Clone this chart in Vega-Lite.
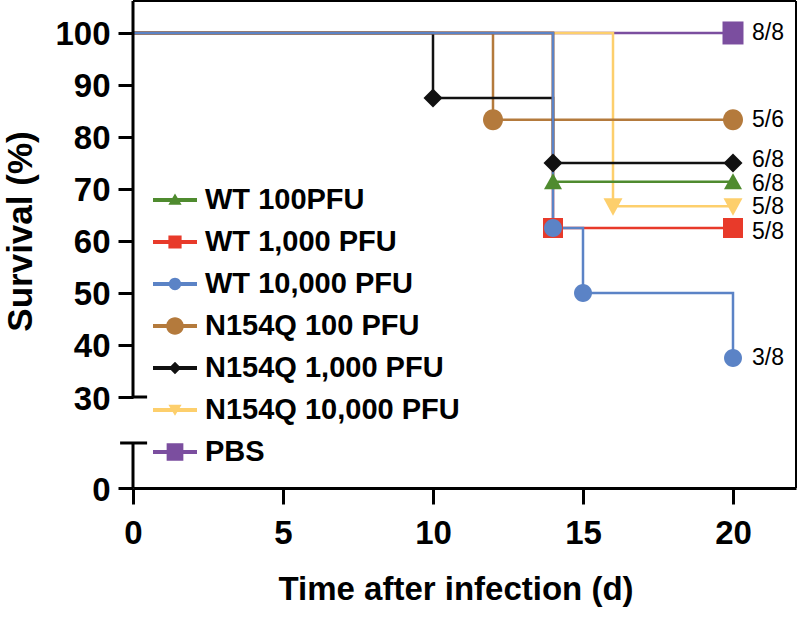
{
  "$schema": "https://vega.github.io/schema/vega-lite/v6.json",
  "width": 663,
  "height": 487,
  "autosize": "none",
  "padding": {"left": 133, "top": 1, "right": 4, "bottom": 130},
  "background": "white",
  "config": {
    "view": {"stroke": null},
    "font": "Liberation Sans",
    "axis": {"grid": false, "domainColor": "black", "domainWidth": 3, "tickColor": "black", "tickWidth": 3, "labelColor": "black", "titleColor": "black", "labelFont": "Liberation Sans", "titleFont": "Liberation Sans", "labelFontWeight": "bold", "titleFontWeight": "bold", "labelFontSize": 33, "titleFontSize": 33, "labelOverlap": false, "labelFlush": false},
    "text": {"align": "left", "baseline": "middle", "dx": 19, "fontSize": 23, "font": "Liberation Sans", "color": "black"}
  },
  "datasets": {
    "km": [
      {"group": "PBS", "day": 0, "survival": 100},
      {"group": "PBS", "day": 20, "survival": 100},
      {"group": "N154Q 10,000 PFU", "day": 0, "survival": 100},
      {"group": "N154Q 10,000 PFU", "day": 16, "survival": 66.7},
      {"group": "N154Q 10,000 PFU", "day": 20, "survival": 66.7},
      {"group": "N154Q 100 PFU", "day": 0, "survival": 100},
      {"group": "N154Q 100 PFU", "day": 12, "survival": 83.3},
      {"group": "N154Q 100 PFU", "day": 20, "survival": 83.3},
      {"group": "N154Q 1,000 PFU", "day": 0, "survival": 100},
      {"group": "N154Q 1,000 PFU", "day": 10, "survival": 87.5},
      {"group": "N154Q 1,000 PFU", "day": 14, "survival": 75},
      {"group": "N154Q 1,000 PFU", "day": 20, "survival": 75},
      {"group": "WT 100PFU", "day": 0, "survival": 100},
      {"group": "WT 100PFU", "day": 14, "survival": 71.4},
      {"group": "WT 100PFU", "day": 20, "survival": 71.4},
      {"group": "WT 1,000 PFU", "day": 0, "survival": 100},
      {"group": "WT 1,000 PFU", "day": 14, "survival": 62.5},
      {"group": "WT 1,000 PFU", "day": 20, "survival": 62.5},
      {"group": "WT 10,000 PFU", "day": 0, "survival": 100},
      {"group": "WT 10,000 PFU", "day": 14, "survival": 62.5},
      {"group": "WT 10,000 PFU", "day": 15, "survival": 50},
      {"group": "WT 10,000 PFU", "day": 20, "survival": 37.5}
    ],
    "labels": [
      {"group": "PBS", "label": "8/8", "day": 20, "survival": 100},
      {"group": "N154Q 100 PFU", "label": "5/6", "day": 20, "survival": 83.3},
      {"group": "N154Q 1,000 PFU", "label": "6/8", "day": 20, "survival": 75},
      {"group": "WT 100PFU", "label": "6/8", "day": 20, "survival": 71.4},
      {"group": "N154Q 10,000 PFU", "label": "5/8", "day": 20, "survival": 66.7},
      {"group": "WT 1,000 PFU", "label": "5/8", "day": 20, "survival": 62.5},
      {"group": "WT 10,000 PFU", "label": "3/8", "day": 20, "survival": 37.5}
    ]
  },
  "layer": [
    {
      "data": {"name": "km"},
      "mark": {"type": "line", "interpolate": "step-after", "strokeWidth": 2.5},
      "encoding": {
        "x": {"field": "day", "type": "quantitative", "scale": {"domain": [0, 22.1], "nice": false, "zero": false},
              "axis": {"values": [0, 5, 10, 15, 20], "tickSize": 16, "labelPadding": 13, "title": "Time after infection (d)", "titleX": 322.5, "titleY": 111, "titleAlign": "center", "titleBaseline": "alphabetic"}},
        "y": {"field": "survival", "type": "quantitative", "scale": {"domain": [0, 30, 106.15], "range": [487, 396, 0], "nice": false, "zero": false},
              "axis": {"values": [0, 30, 40, 50, 60, 70, 80, 90, 100], "domain": false, "tickSize": 15, "labelPadding": 8, "labelOffset": 2, "title": "Survival (%)", "titleFontSize": 35, "titleX": -102, "titleY": 230, "titleAngle": -90, "titleAlign": "center", "titleBaseline": "alphabetic"}},
        "color": {"field": "group", "type": "nominal", "legend": null,
                  "scale": {"domain": ["WT 100PFU", "WT 1,000 PFU", "WT 10,000 PFU", "N154Q 100 PFU", "N154Q 1,000 PFU", "N154Q 10,000 PFU", "PBS"],
                            "range": ["#4f8b2f", "#e83a2a", "#5b83c6", "#b47a3c", "#111111", "#fdcf6c", "#7b4e9f"]}}
      }
    },
    {
      "data": {"name": "km"},
      "transform": [{"filter": "datum.day > 0"}],
      "mark": {"type": "point", "filled": true, "opacity": 1, "size": 400},
      "encoding": {
        "x": {"field": "day", "type": "quantitative"},
        "y": {"field": "survival", "type": "quantitative"},
        "color": {"field": "group", "type": "nominal", "legend": null,
                  "scale": {"domain": ["WT 100PFU", "WT 1,000 PFU", "WT 10,000 PFU", "N154Q 100 PFU", "N154Q 1,000 PFU", "N154Q 10,000 PFU", "PBS"],
                            "range": ["#4f8b2f", "#e83a2a", "#5b83c6", "#b47a3c", "#111111", "#fdcf6c", "#7b4e9f"]}},
        "shape": {"field": "group", "type": "nominal", "legend": null,
                  "scale": {"domain": ["WT 100PFU", "WT 1,000 PFU", "WT 10,000 PFU", "N154Q 100 PFU", "N154Q 1,000 PFU", "N154Q 10,000 PFU", "PBS"],
                            "range": ["M0,-0.85L0.9,0.75L-0.9,0.75Z", "M-1,-1L1,-1L1,1L-1,1Z", "M-0.9,0A0.9,0.9,0,1,1,0.9,0A0.9,0.9,0,1,1,-0.9,0Z", "M-1,0A1,1.05,0,1,1,1,0A1,1.05,0,1,1,-1,0Z", "M0,-0.95L0.95,0L0,0.95L-0.95,0Z", "M-0.95,-0.8L0.95,-0.8L0,0.95Z", "M-1.05,-1.15L1.05,-1.15L1.05,1.15L-1.05,1.15Z"]}}
      }
    },
    {
      "data": {"name": "km"},
      "transform": [{"filter": "false"}],
      "mark": {"type": "point", "filled": true, "opacity": 1, "size": 1936},
      "encoding": {
        "x": {"field": "day", "type": "quantitative"},
        "y": {"field": "survival", "type": "quantitative"},
        "color": {"field": "group", "type": "nominal",
                  "scale": {"domain": ["WT 100PFU", "WT 1,000 PFU", "WT 10,000 PFU", "N154Q 100 PFU", "N154Q 1,000 PFU", "N154Q 10,000 PFU", "PBS"],
                            "range": ["#4f8b2f", "#e83a2a", "#5b83c6", "#b47a3c", "#111111", "#fdcf6c", "#7b4e9f"]},
                  "legend": {"title": null, "orient": "none", "legendX": 20, "legendY": 177, "symbolSize": 1936, "symbolOpacity": 1, "symbolStrokeWidth": 0, "labelFontSize": 29, "labelFontWeight": "bold", "labelFont": "Liberation Sans", "labelColor": "black", "labelOffset": 8, "rowPadding": 5, "padding": 0, "labelLimit": 400}},
        "shape": {"field": "group", "type": "nominal",
                  "scale": {"domain": ["WT 100PFU", "WT 1,000 PFU", "WT 10,000 PFU", "N154Q 100 PFU", "N154Q 1,000 PFU", "N154Q 10,000 PFU", "PBS"],
                            "range": [
                              "M-1,-0.09L1,-0.09L1,0.09L-1,0.09ZM0,-0.3L0.3,0.22L-0.3,0.22Z",
                              "M-1,-0.09L1,-0.09L1,0.09L-1,0.09ZM-0.3,-0.3L0.3,-0.3L0.3,0.3L-0.3,0.3Z",
                              "M-1,-0.09L1,-0.09L1,0.09L-1,0.09ZM-0.28,0A0.28,0.28,0,1,1,0.28,0A0.28,0.28,0,1,1,-0.28,0Z",
                              "M-1,-0.09L1,-0.09L1,0.09L-1,0.09ZM-0.4,0A0.4,0.4,0,1,1,0.4,0A0.4,0.4,0,1,1,-0.4,0Z",
                              "M-1,-0.09L1,-0.09L1,0.09L-1,0.09ZM0,-0.28L0.28,0L0,0.28L-0.28,0Z",
                              "M-1,-0.09L1,-0.09L1,0.09L-1,0.09ZM-0.3,-0.24L0.3,-0.24L0,0.26Z",
                              "M-1,-0.09L1,-0.09L1,0.09L-1,0.09ZM-0.38,-0.4L0.38,-0.4L0.38,0.4L-0.38,0.4Z"
                            ]},
                  "legend": {"title": null, "orient": "none", "legendX": 20, "legendY": 177, "symbolSize": 1936, "symbolOpacity": 1, "symbolStrokeWidth": 0, "labelFontSize": 29, "labelFontWeight": "bold", "labelFont": "Liberation Sans", "labelColor": "black", "labelOffset": 8, "rowPadding": 5, "padding": 0, "labelLimit": 400}}
      }
    },
    {
      "data": {"name": "labels"},
      "transform": [{"filter": "datum.group == 'PBS' || datum.group == 'N154Q 100 PFU' || datum.group == 'WT 10,000 PFU'"}],
      "mark": {"type": "text"},
      "encoding": {
        "x": {"field": "day", "type": "quantitative"},
        "y": {"field": "survival", "type": "quantitative"},
        "text": {"field": "label"}
      }
    },
    {
      "data": {"name": "labels"},
      "transform": [{"filter": "datum.group == 'N154Q 1,000 PFU'"}],
      "mark": {"type": "text", "dy": -3},
      "encoding": {
        "x": {"field": "day", "type": "quantitative"},
        "y": {"field": "survival", "type": "quantitative"},
        "text": {"field": "label"}
      }
    },
    {
      "data": {"name": "labels"},
      "transform": [{"filter": "datum.group == 'WT 100PFU'"}],
      "mark": {"type": "text", "dy": 2},
      "encoding": {
        "x": {"field": "day", "type": "quantitative"},
        "y": {"field": "survival", "type": "quantitative"},
        "text": {"field": "label"}
      }
    },
    {
      "data": {"name": "labels"},
      "transform": [{"filter": "datum.group == 'N154Q 10,000 PFU'"}],
      "mark": {"type": "text", "dy": 1},
      "encoding": {
        "x": {"field": "day", "type": "quantitative"},
        "y": {"field": "survival", "type": "quantitative"},
        "text": {"field": "label"}
      }
    },
    {
      "data": {"name": "labels"},
      "transform": [{"filter": "datum.group == 'WT 1,000 PFU'"}],
      "mark": {"type": "text", "dy": 4},
      "encoding": {
        "x": {"field": "day", "type": "quantitative"},
        "y": {"field": "survival", "type": "quantitative"},
        "text": {"field": "label"}
      }
    },
    {
      "data": {"values": [{}]},
      "mark": {"type": "rule", "color": "black", "strokeWidth": 3},
      "encoding": {"x": {"datum": 0}, "y": {"datum": 30}, "y2": {"datum": 106.15}}
    },
    {
      "data": {"values": [{}]},
      "mark": {"type": "rule", "color": "black", "strokeWidth": 3},
      "encoding": {"x": {"datum": 0}, "y": {"datum": 0}, "y2": {"datum": 14.84}}
    },
    {
      "data": {"values": [{}]},
      "mark": {"type": "rule", "color": "black", "strokeWidth": 3},
      "encoding": {"y": {"datum": 30}, "x": {"datum": 0}, "x2": {"datum": 0.47}}
    },
    {
      "data": {"values": [{}]},
      "mark": {"type": "rule", "color": "black", "strokeWidth": 3},
      "encoding": {"y": {"datum": 14.84}, "x": {"datum": -0.43}, "x2": {"datum": 0.47}}
    },
    {
      "data": {"values": [{}]},
      "mark": {"type": "rule", "color": "black", "strokeWidth": 2},
      "encoding": {"y": {"datum": 106.15}}
    },
    {
      "data": {"values": [{}]},
      "mark": {"type": "rule", "color": "black", "strokeWidth": 2},
      "encoding": {"x": {"datum": 22.1}}
    }
  ],
  "resolve": {"scale": {"color": "independent", "shape": "independent"}}
}
